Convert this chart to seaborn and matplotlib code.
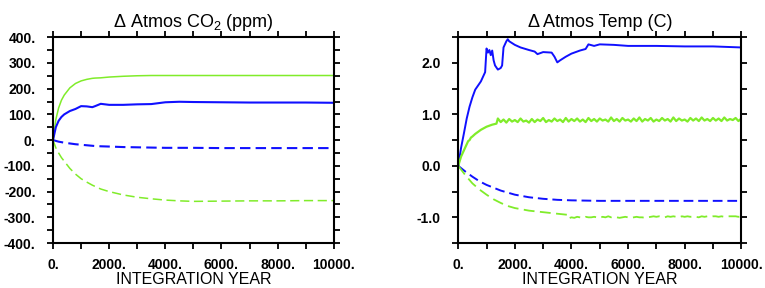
import matplotlib
matplotlib.use("Agg")
import matplotlib.pyplot as plt
import matplotlib.ticker as mticker
import seaborn as sns

# ---- data ----
co2_years = [0, 100, 200, 300, 400, 600, 800, 1000, 1200, 1400, 1500, 1700, 2000,
             2500, 3000, 3500, 4000, 4500, 5000, 6000, 7000, 8000, 9000, 10000]
co2_green_solid = [0, 80, 125, 155, 175, 203, 220, 230, 236, 240, 241, 242, 245,
                   248, 250, 251, 251, 251, 251, 251, 251, 251, 251, 251]
co2_blue_solid = [0, 50, 75, 90, 100, 113, 121, 132, 131, 128, 132, 141, 137,
                  137, 139, 140, 147, 149, 148, 147, 146, 146, 146, 145]
co2_blue_dash = [0, -3, -6, -8, -10, -13, -16, -18, -20, -22, -23, -24, -25,
                 -27, -28, -29, -30, -30, -30, -31, -31, -31, -31, -31]
co2_green_dash = [0, -30, -50, -68, -82, -110, -132, -150, -163, -175, -180, -190, -200,
                  -213, -222, -228, -233, -236, -238, -237, -236, -236, -235, -235]

temp_blue_years = [0, 100, 200, 300, 400, 500, 600, 800, 950, 1000, 1050, 1100, 1150,
                   1200, 1250, 1300, 1400, 1500, 1550, 1600, 1700, 1750, 1800, 2000,
                   2200, 2500, 2700, 2800, 3000, 3300, 3400, 3500, 3600, 3800, 4000,
                   4300, 4500, 4600, 4800, 5000, 5500, 6000, 6500, 7000, 8000, 9000, 10000]
temp_blue_solid = [0, 0.35, 0.63, 0.92, 1.15, 1.33, 1.48, 1.64, 1.82, 2.28, 2.20, 2.25, 2.15,
                   2.24, 2.05, 1.95, 1.87, 1.90, 1.95, 2.30, 2.42, 2.46, 2.42, 2.35,
                   2.30, 2.25, 2.22, 2.17, 2.21, 2.20, 2.12, 2.01, 2.05, 2.12, 2.18,
                   2.24, 2.27, 2.36, 2.33, 2.36, 2.35, 2.33, 2.33, 2.33, 2.32, 2.32, 2.30]

temp_green_years = [0, 100, 200, 300, 350, 400, 450, 500, 600, 800, 1000, 1200, 1350] + \
                   list(range(1400, 10001, 100))
temp_green_solid = [0, 0.18, 0.30, 0.42, 0.48, 0.50, 0.55, 0.57, 0.62, 0.70, 0.76, 0.80, 0.82,
                    0.92, 0.85, 0.90, 0.84, 0.91, 0.86, 0.89, 0.85, 0.92, 0.86, 0.88, 0.84,
                    0.91, 0.85, 0.90, 0.87, 0.93, 0.85, 0.89, 0.86, 0.92, 0.87, 0.90, 0.85,
                    0.93, 0.86, 0.91, 0.87, 0.92, 0.86, 0.90, 0.85, 0.93, 0.87, 0.91, 0.86,
                    0.92, 0.88, 0.90, 0.86, 0.94, 0.87, 0.91, 0.86, 0.93, 0.88, 0.90, 0.86,
                    0.92, 0.87, 0.94, 0.86, 0.91, 0.88, 0.93, 0.86, 0.90, 0.87, 0.93, 0.88,
                    0.91, 0.86, 0.94, 0.87, 0.92, 0.88, 0.90, 0.86, 0.93, 0.88, 0.92, 0.87,
                    0.94, 0.88, 0.91, 0.87, 0.93, 0.88, 0.92, 0.87, 0.94, 0.88, 0.91, 0.89,
                    0.93, 0.87, 0.92]

temp_bdash_years = [0, 250, 500, 750, 1000, 1500, 2000, 2500, 3000, 3500, 4000, 5000,
                    6000, 8000, 10000]
temp_blue_dash = [0, -0.11, -0.21, -0.30, -0.37, -0.48, -0.56, -0.61, -0.64, -0.66, -0.67,
                  -0.68, -0.68, -0.68, -0.68]

temp_gdash_years = [0, 250, 500, 750, 1000, 1250, 1500, 1750, 2000, 2500, 3000, 3500, 3850] + \
                   list(range(3900, 10001, 100))
temp_green_dash = [0, -0.18, -0.34, -0.46, -0.56, -0.65, -0.72, -0.78, -0.82, -0.87, -0.90,
                   -0.93, -0.95,
                   -1.02, -1.00, -1.01, -0.99, -1.00, -1.01, -0.99, -1.00, -1.00, -0.99,
                   -1.00, -1.01, -0.99, -1.00, -0.98, -1.00, -0.99, -1.00, -1.01, -1.00,
                   -0.99, -1.00, -1.01, -1.00, -0.99, -1.00, -1.00, -1.01, -1.00, -0.99,
                   -0.98, -0.99, -0.98, -0.99, -1.00, -0.98, -0.99, -0.98, -0.99, -1.00,
                   -0.98, -0.99, -0.98, -0.99, -0.98, -0.99, -1.00, -0.98, -0.99, -0.98,
                   -0.99, -0.98, -0.98, -0.99, -0.98, -0.99, -0.98, -0.98, -0.98, -0.98,
                   -0.99, -0.98]

BLUE = "#1010ff"
GREEN = "#80ec2a"

sns.set_style("white")
plt.rcParams["font.family"] = ["Liberation Sans", "DejaVu Sans"]
plt.rcParams["mathtext.fontset"] = "custom"
plt.rcParams["mathtext.rm"] = "Liberation Sans"
plt.rcParams["mathtext.it"] = "Liberation Sans"
plt.rcParams["text.color"] = "black"
plt.rcParams["axes.labelcolor"] = "black"
plt.rcParams["xtick.color"] = "black"
plt.rcParams["ytick.color"] = "black"

fig = plt.figure(figsize=(7.65, 2.88), dpi=100)
ax1 = fig.add_axes([0.0693, 0.156, 0.367, 0.715])
ax2 = fig.add_axes([0.599, 0.156, 0.370, 0.715])

# left: CO2
sns.lineplot(x=co2_years, y=co2_green_solid, color=GREEN, lw=1.1, ax=ax1)
sns.lineplot(x=co2_years, y=co2_blue_solid, color=BLUE, lw=1.5, ax=ax1)
sns.lineplot(x=co2_years, y=co2_blue_dash, color=BLUE, lw=1.5, ax=ax1)
sns.lineplot(x=co2_years, y=co2_green_dash, color=GREEN, lw=1.1, ax=ax1)
ax1.lines[2].set_dashes([5, 2.5])
ax1.lines[3].set_dashes([6, 3])

# right: temperature
sns.lineplot(x=temp_blue_years, y=temp_blue_solid, color=BLUE, lw=1.4, ax=ax2)
sns.lineplot(x=temp_green_years, y=temp_green_solid, color=GREEN, lw=1.6, ax=ax2)
sns.lineplot(x=temp_bdash_years, y=temp_blue_dash, color=BLUE, lw=1.4, ax=ax2)
sns.lineplot(x=temp_gdash_years, y=temp_green_dash, color=GREEN, lw=1.3, ax=ax2)
ax2.lines[2].set_dashes([5, 2.5])
ax2.lines[3].set_dashes([6, 3])


def xfmt(v, pos):
    return "%d." % v if int(round(v)) % 2000 == 0 else ""


def co2fmt(v, pos):
    return "%d." % v if int(round(v)) % 100 == 0 else ""


def tfmt(v, pos):
    return "%.1f" % v if abs(v - round(v)) < 1e-6 else ""


for ax in (ax1, ax2):
    ax.set_xlim(0, 10000)
    ax.xaxis.set_major_locator(mticker.MultipleLocator(1000))
    ax.xaxis.set_major_formatter(mticker.FuncFormatter(xfmt))
    ax.tick_params(axis="both", which="both", direction="out", length=4.5, width=1.3,
                   top=True, right=True, bottom=True, left=True,
                   labelsize=10, color="black", labelcolor="black")
    ax.tick_params(axis="y", pad=8)
    ax.tick_params(axis="x", pad=6)
    for s in ax.spines.values():
        s.set_linewidth(1.5)
        s.set_color("black")
    ax.set_xlabel("INTEGRATION YEAR", fontsize=11.5, labelpad=0)
    ax.set_ylabel("")

ax1.set_ylim(-400, 400)
ax1.yaxis.set_major_locator(mticker.MultipleLocator(50))
ax1.yaxis.set_major_formatter(mticker.FuncFormatter(co2fmt))
ax1.set_title("Δ Atmos CO$_2$ (ppm)", fontsize=13, pad=7)

ax2.set_ylim(-1.5, 2.5)
ax2.yaxis.set_major_locator(mticker.MultipleLocator(0.5))
ax2.yaxis.set_major_formatter(mticker.FuncFormatter(tfmt))
ax2.set_title("Δ Atmos Temp (C)", fontsize=13, pad=7)

for ax in (ax1, ax2):
    for lab in ax.get_xticklabels() + ax.get_yticklabels():
        lab.set_fontweight("bold")

fig.savefig("out.png", dpi=100)
plt.close(fig)
